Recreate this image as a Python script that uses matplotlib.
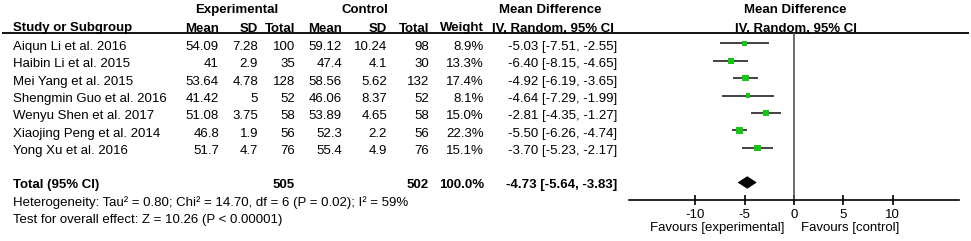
import matplotlib.pyplot as plt
from matplotlib.patches import Polygon

plt.rcParams['font.family'] = ['Liberation Sans', 'DejaVu Sans']

# ---- data ----
studies = ["Aiqun Li et al. 2016", "Haibin Li et al. 2015", "Mei Yang et al. 2015",
           "Shengmin Guo et al. 2016", "Wenyu Shen et al. 2017",
           "Xiaojing Peng et al. 2014", "Yong Xu et al. 2016"]
exp_mean = [54.09, 41, 53.64, 41.42, 51.08, 46.8, 51.7]
exp_sd = [7.28, 2.9, 4.78, 5, 3.75, 1.9, 4.7]
exp_n = [100, 35, 128, 52, 58, 56, 76]
ctl_mean = [59.12, 47.4, 58.56, 46.06, 53.89, 52.3, 55.4]
ctl_sd = [10.24, 4.1, 5.62, 8.37, 4.65, 2.2, 4.9]
ctl_n = [98, 30, 132, 52, 58, 56, 76]
weights = [8.9, 13.3, 17.4, 8.1, 15.0, 22.3, 15.1]
md = [-5.03, -6.40, -4.92, -4.64, -2.81, -5.50, -3.70]
ci_lo = [-7.51, -8.15, -6.19, -7.29, -4.35, -6.26, -5.23]
ci_hi = [-2.55, -4.65, -3.65, -1.99, -1.27, -4.74, -2.17]

total_exp_n = 505
total_ctl_n = 502
total_weight = 100.0
total_md, total_lo, total_hi = -4.73, -5.64, -3.83
heterogeneity = "Heterogeneity: Tau\u00b2 = 0.80; Chi\u00b2 = 14.70, df = 6 (P = 0.02); I\u00b2 = 59%"
overall = "Test for overall effect: Z = 10.26 (P < 0.00001)"
ticks = [-10, -5, 0, 5, 10]

# ---- layout (pixel coordinates) ----
W, H = 971, 241
row_y = [43.3 + 17.4 * i for i in range(len(studies))]
total_y = 182.5
axis_y = 199.5
line_y = 33
fs = 9.5
base_off = 3.5  # text centre below mark centre

fig = plt.figure(figsize=(W / 100, H / 100), dpi=100)
tx = fig.add_axes([0, 0, 1, 1])
tx.set_xlim(0, W)
tx.set_ylim(H, 0)
tx.axis('off')

# headers
tx.text(237, 10, "Experimental", ha='center', va='center', fontsize=fs, fontweight='bold')
tx.text(365, 10, "Control", ha='center', va='center', fontsize=fs, fontweight='bold')
tx.text(550, 10, "Mean Difference", ha='center', va='center', fontsize=fs, fontweight='bold')
tx.text(795, 10, "Mean Difference", ha='center', va='center', fontsize=fs, fontweight='bold')
hdr = [("Study or Subgroup", 13, 'left'), ("Mean", 219, 'right'), ("SD", 258, 'right'),
       ("Total", 295, 'right'), ("Mean", 342, 'right'), ("SD", 387, 'right'),
       ("Total", 429, 'right'), ("Weight", 484, 'right'),
       ("IV, Random, 95% CI", 553, 'center'), ("IV, Random, 95% CI", 796, 'center')]
for s, x, ha in hdr:
    tx.text(x, 28.5, s, ha=ha, va='center', fontsize=fs, fontweight='bold')
tx.hlines(line_y, 2, 969, color='black', lw=1.3)

# study rows
for i, name in enumerate(studies):
    y = row_y[i] + base_off
    tx.text(13, y, name, ha='left', va='center', fontsize=fs)
    tx.text(219, y, f"{exp_mean[i]:g}", ha='right', va='center', fontsize=fs)
    tx.text(258, y, f"{exp_sd[i]:g}", ha='right', va='center', fontsize=fs)
    tx.text(295, y, f"{exp_n[i]}", ha='right', va='center', fontsize=fs)
    tx.text(342, y, f"{ctl_mean[i]:g}", ha='right', va='center', fontsize=fs)
    tx.text(387, y, f"{ctl_sd[i]:g}", ha='right', va='center', fontsize=fs)
    tx.text(429, y, f"{ctl_n[i]}", ha='right', va='center', fontsize=fs)
    tx.text(484, y, f"{weights[i]:.1f}%", ha='right', va='center', fontsize=fs)
    tx.text(563, y, f"{md[i]:.2f} [{ci_lo[i]:.2f}, {ci_hi[i]:.2f}]", ha='center', va='center', fontsize=fs)

# total row
ty = total_y + 2.5
tx.text(13, ty, "Total (95% CI)", ha='left', va='center', fontsize=fs, fontweight='bold')
tx.text(295, ty, f"{total_exp_n}", ha='right', va='center', fontsize=fs, fontweight='bold')
tx.text(429, ty, f"{total_ctl_n}", ha='right', va='center', fontsize=fs, fontweight='bold')
tx.text(484, ty, f"{total_weight:.1f}%", ha='right', va='center', fontsize=fs, fontweight='bold')
tx.text(562, ty, f"{total_md:.2f} [{total_lo:.2f}, {total_hi:.2f}]", ha='center', va='center',
        fontsize=fs, fontweight='bold')
tx.text(13, 203, heterogeneity, ha='left', va='center', fontsize=fs)
tx.text(13, 220, overall, ha='left', va='center', fontsize=fs)

# ---- forest panel ----
fx0, fx1 = 629, 959
ax = fig.add_axes([fx0 / W, 0, (fx1 - fx0) / W, 1])
ax.set_xlim(-16.7, 16.7)
ax.set_ylim(H, 0)
ax.patch.set_visible(False)
for s in ['top', 'left', 'right']:
    ax.spines[s].set_visible(False)
ax.spines['bottom'].set_position(('data', axis_y))
ax.spines['bottom'].set_linewidth(1.2)
ax.set_yticks([])
ax.set_xticks(ticks)
ax.set_xticklabels([f"{t}" for t in ticks])
ax.tick_params(axis='x', direction='inout', length=7, width=1.2, labelsize=fs, pad=3)

ax.vlines(0, line_y, axis_y, color='#555555', lw=1.2)
ax.hlines(row_y, ci_lo, ci_hi, color='#222222', lw=1.2, zorder=2)
ax.scatter(md, row_y, marker='s', s=[1.3 * w for w in weights], color='#12c812',
           edgecolors='none', zorder=3)
diamond = Polygon([(total_lo, total_y), (total_md, total_y - 5.8),
                   (total_hi, total_y), (total_md, total_y + 5.8)],
                  closed=True, facecolor='black', edgecolor='black', lw=0.5)
ax.add_patch(diamond)

ax.text(-0.95, 228, "Favours [experimental]", ha='right', va='center', fontsize=fs)
ax.text(0.75, 228, "Favours [control]", ha='left', va='center', fontsize=fs)

fig.savefig("out.png", dpi=100)
